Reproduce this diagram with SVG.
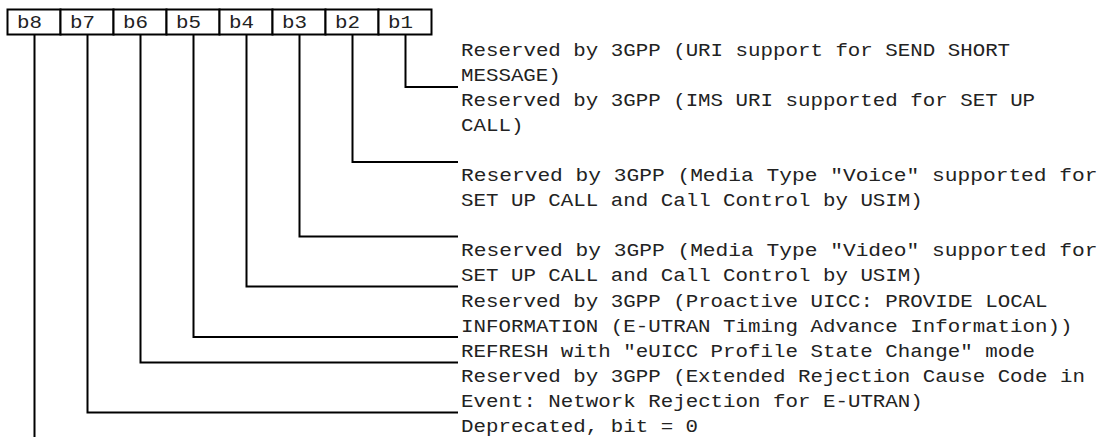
<svg xmlns="http://www.w3.org/2000/svg" width="1105" height="437" viewBox="0 0 1105 437">
<style>
.cell{fill:#fff;stroke:#000;stroke-width:2}
.t{font-family:"Liberation Mono","DejaVu Sans Mono",monospace;font-size:18px;fill:#222}
.c{fill:none;stroke:#000;stroke-width:2}
</style>
<rect width="1105" height="437" fill="#fff"/>
<g id="cells">
<g id="b8"><rect class="cell" x="7.5" y="9.5" width="53" height="25"/><text class="t" x="17" y="28" textLength="25" lengthAdjust="spacingAndGlyphs">b8</text></g>
<g id="b7"><rect class="cell" x="60.5" y="9.5" width="53" height="25"/><text class="t" x="70" y="28" textLength="25" lengthAdjust="spacingAndGlyphs">b7</text></g>
<g id="b6"><rect class="cell" x="113.5" y="9.5" width="53" height="25"/><text class="t" x="123" y="28" textLength="25" lengthAdjust="spacingAndGlyphs">b6</text></g>
<g id="b5"><rect class="cell" x="166.5" y="9.5" width="53" height="25"/><text class="t" x="176" y="28" textLength="25" lengthAdjust="spacingAndGlyphs">b5</text></g>
<g id="b4"><rect class="cell" x="219.5" y="9.5" width="53" height="25"/><text class="t" x="229" y="28" textLength="25" lengthAdjust="spacingAndGlyphs">b4</text></g>
<g id="b3"><rect class="cell" x="272.5" y="9.5" width="53" height="25"/><text class="t" x="282" y="28" textLength="25" lengthAdjust="spacingAndGlyphs">b3</text></g>
<g id="b2"><rect class="cell" x="325.5" y="9.5" width="53" height="25"/><text class="t" x="335" y="28" textLength="25" lengthAdjust="spacingAndGlyphs">b2</text></g>
<g id="b1"><rect class="cell" x="378.5" y="9.5" width="53" height="25"/><text class="t" x="388" y="28" textLength="25" lengthAdjust="spacingAndGlyphs">b1</text></g>
</g>
<g id="connectors">
<polyline class="c" points="405.5,34.5 405.5,87 458,87"/>
<polyline class="c" points="352.5,34.5 352.5,162 458,162"/>
<polyline class="c" points="299.5,34.5 299.5,236.5 458,236.5"/>
<polyline class="c" points="246.5,34.5 246.5,286.5 458,286.5"/>
<polyline class="c" points="193.5,34.5 193.5,337 458,337"/>
<polyline class="c" points="140.5,34.5 140.5,362.5 458,362.5"/>
<polyline class="c" points="87.5,34.5 87.5,412.5 458,412.5"/>
<line class="c" x1="34.5" y1="34.5" x2="34.5" y2="437"/>
</g>
<g id="desc-b1"><text class="t" x="461" y="55.5" textLength="549.1" lengthAdjust="spacingAndGlyphs">Reserved by 3GPP (URI support for SEND SHORT</text><text class="t" x="461" y="80.6" textLength="99.8" lengthAdjust="spacingAndGlyphs">MESSAGE)</text></g>
<g id="desc-b2"><text class="t" x="461" y="105.7" textLength="574.1" lengthAdjust="spacingAndGlyphs">Reserved by 3GPP (IMS URI supported for SET UP</text><text class="t" x="461" y="130.8" textLength="62.4" lengthAdjust="spacingAndGlyphs">CALL)</text></g>
<g id="desc-b3"><text class="t" x="461" y="181" textLength="636.5" lengthAdjust="spacingAndGlyphs">Reserved by 3GPP (Media Type "Voice" supported for</text><text class="t" x="461" y="206.1" textLength="461.8" lengthAdjust="spacingAndGlyphs">SET UP CALL and Call Control by USIM)</text></g>
<g id="desc-b4"><text class="t" x="461" y="256.3" textLength="636.5" lengthAdjust="spacingAndGlyphs">Reserved by 3GPP (Media Type "Video" supported for</text><text class="t" x="461" y="281.4" textLength="461.8" lengthAdjust="spacingAndGlyphs">SET UP CALL and Call Control by USIM)</text></g>
<g id="desc-b5"><text class="t" x="461" y="306.5" textLength="586.6" lengthAdjust="spacingAndGlyphs">Reserved by 3GPP (Proactive UICC: PROVIDE LOCAL</text><text class="t" x="461" y="331.6" textLength="611.5" lengthAdjust="spacingAndGlyphs">INFORMATION (E-UTRAN Timing Advance Information))</text></g>
<g id="desc-b6"><text class="t" x="461" y="356.7" textLength="574.1" lengthAdjust="spacingAndGlyphs">REFRESH with "eUICC Profile State Change" mode</text></g>
<g id="desc-b7"><text class="t" x="461" y="381.8" textLength="624" lengthAdjust="spacingAndGlyphs">Reserved by 3GPP (Extended Rejection Cause Code in</text><text class="t" x="461" y="406.9" textLength="461.8" lengthAdjust="spacingAndGlyphs">Event: Network Rejection for E-UTRAN)</text></g>
<g id="desc-b8"><text class="t" x="461" y="432" textLength="237.1" lengthAdjust="spacingAndGlyphs">Deprecated, bit = 0</text></g>
</svg>
